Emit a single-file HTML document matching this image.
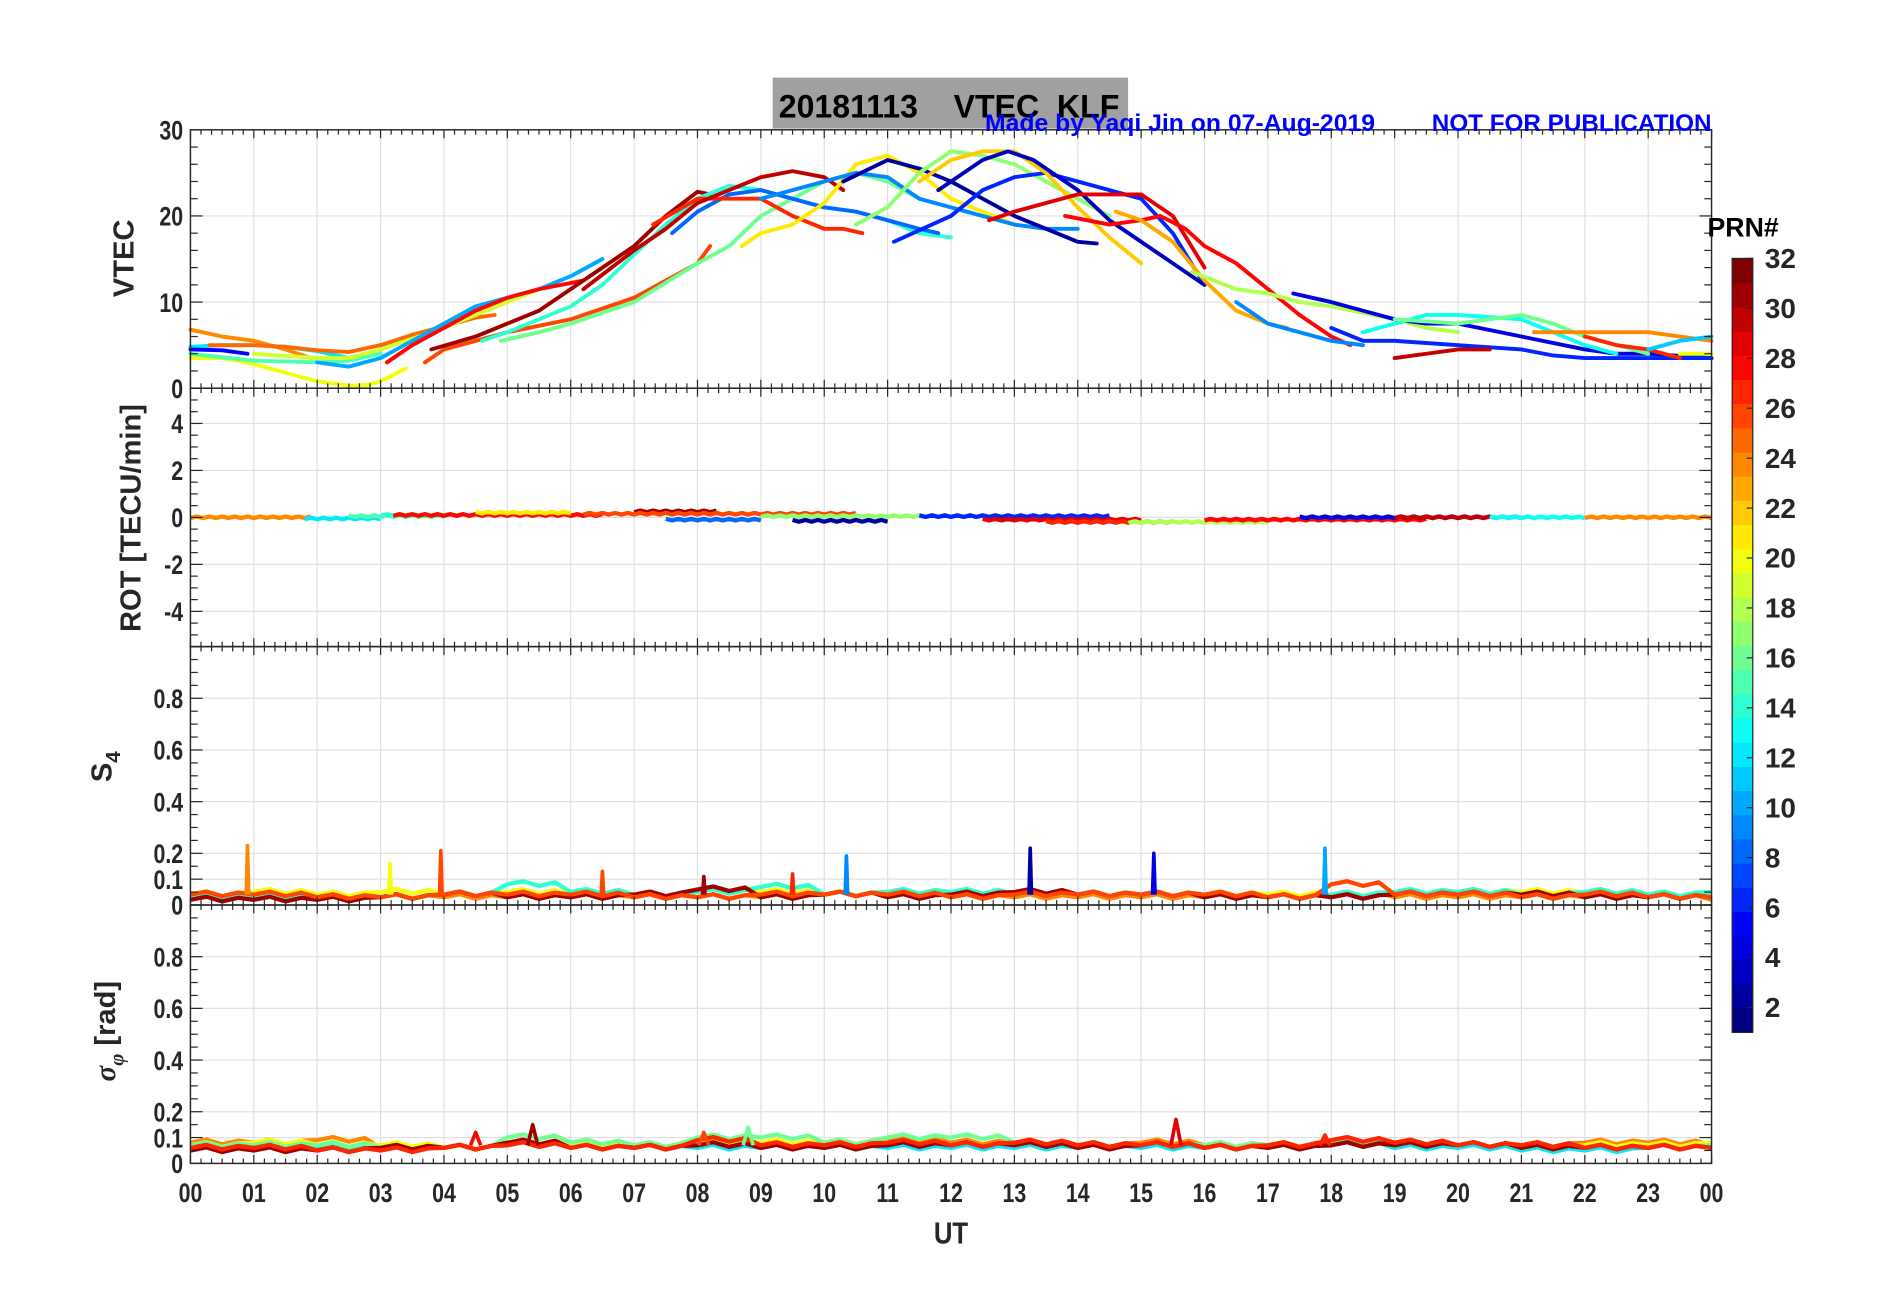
<!DOCTYPE html>
<html><head><meta charset="utf-8"><style>
html,body{margin:0;padding:0;background:#fff;}
svg{display:block;}
text{font-family:"Liberation Sans",sans-serif;font-weight:bold;white-space:pre;}
</style></head><body>
<svg id="chart" width="1902" height="1292" viewBox="0 0 1568 1065" preserveAspectRatio="none" xmlns="http://www.w3.org/2000/svg">
<g id="grid"></g><g id="series"></g><g id="axes"></g><g id="labels"></g>
</svg>
<script>
// ---- data ----
const hourTicks = ["00","01","02","03","04","05","06","07","08","09","10","11","12","13","14","15","16","17","18","19","20","21","22","23","00"];
const vtecTicks = [0,10,20,30];
const rotTicks = [-4,-2,0,2,4];
const s4Ticks = [0,0.1,0.2,0.4,0.6,0.8];
const sigTicks = [0,0.1,0.2,0.4,0.6,0.8];
const cbTicks = [2,4,6,8,10,12,14,16,18,20,22,24,26,28,30,32];
// VTEC arcs: prn, hours, values
const vtecPrn = [24,12,5,25,20,15,19,10,28,26,31,16,14,8,27,30,21,9,2,17,6,22,3,29,28,23,18,9,4,6,13,16,24,27,30,11,20];
const vtecHours = [
 [0,0.5,1,1.5,1.9],
 [0,0.5,1,1.5,2,2.5,3,3.5],
 [0,0.5,0.9],
 [0.3,1,1.5,2,2.5,3,3.5,4,4.5,4.8],
 [0,0.5,1,1.5,2,2.5,2.8,3,3.4],
 [0,1,2,2.5,3],
 [1,2,2.5,3,4,5,5.5],
 [2,2.5,3,4,4.5,5,5.5,6,6.5],
 [3.1,3.5,4,4.5,5,5.5,6.2],
 [3.7,4,5,6,7,8,8.2],
 [3.8,4.5,5,5.5,6,6.5,7,7.5,8,8.2],
 [4.9,5.5,6,7,8,8.5,9,10,10.5,11,11.5],
 [4.6,5,6,6.5,7,7.5,8,8.5,9,9.5,10,10.5,11,11.5,12],
 [7.6,8,8.5,9,9.5,10,10.5,11,11.5,11.8],
 [7.3,8,9,9.5,10,10.3,10.6],
 [6.2,7,7.5,8,8.5,9,9.5,10,10.3],
 [8.7,9,9.5,10,10.5,11,11.5,12,12.5,13,13.5],
 [9,9.5,10,10.5,11,11.5,12,12.5,13,13.5,14],
 [10.3,11,11.5,12,12.5,13,13.5,14,14.3],
 [10.5,11,11.5,12,12.5,13,13.5,14,14.5],
 [11.1,12,12.5,13,13.5,14,14.5,15,15.5,16],
 [11.5,12,12.5,13,13.5,14,14.5,15],
 [11.8,12.5,12.9,13.3,14,14.5,15,15.5,16],
 [12.6,13,13.5,14,14.5,15,15.5,16],
 [13.8,14.5,15,15.3,15.7,16,16.5,17,17.5,18,18.3],
 [14.6,15,15.5,16,16.5,17,17.3],
 [15.8,16.5,17,17.5,18,19,19.5,20],
 [16.5,17,17.5,18,18.5],
 [17.4,18,18.5,19,19.5,20,21,22,22.5,23,24],
 [18,18.5,19,20,21,21.5,22,23,24],
 [18.5,19,19.5,20,21,21.5,22,22.5],
 [19,20,21,21.5,22,23],
 [21.2,22,23,23.5,24],
 [22,22.5,23,23.5],
 [19,19.5,20,20.5],
 [23,23.5,24],
 [23.5,24]
];
const vtecVals = [
 [6.8,6,5.5,4.5,3.5],
 [4.8,5,5,4.8,4.3,3.5,4.5,6],
 [4.5,4.4,4],
 [5,5,4.8,4.4,4.2,5,6.2,7.2,8.2,8.5],
 [3.5,3.5,2.8,1.8,0.8,0.3,0.4,0.8,2.3],
 [4,3.2,3,3.2,4],
 [4,3.5,3.5,4.5,7,10,11.5],
 [3,2.5,3.5,7.5,9.5,10.5,11.5,13,15],
 [3,5,7,9,10.5,11.5,12.5],
 [3,4.5,6.5,8,10.5,14.5,16.5],
 [4.5,6,7.5,9,11.5,14,16.5,20,22.8,22.5],
 [5.5,6.5,7.5,10,14.5,16.5,20,24,25,24,22],
 [5.5,6.5,9.5,12,15.5,19,22,23.5,23,22,21,20.5,19.5,18,17.5],
 [18,20.5,22.5,23,22,21,20.5,19.5,18.5,18],
 [19,22,22,20,18.5,18.5,18],
 [11.5,16,18.5,21.5,23,24.5,25.2,24.5,23],
 [16.5,18,19,21.5,26,27,25,22,20.5,19,18.5],
 [22,23,24,25,24.5,22,21,20,19,18.5,18.5],
 [24,26.5,25.5,24,22,20,18.5,17,16.8],
 [19,21,25,27.5,27,26,24,22,20],
 [17,20,23,24.5,25,24,23,22,18,12],
 [24,26.5,27.5,27.5,25,21,17.5,14.5],
 [23,26.5,27.5,26.5,23,19.5,17,14.5,12],
 [19.5,20.5,21.5,22.5,22.5,22.5,20,14],
 [20,19,19.5,20,18.5,16.5,14.5,11.5,8.5,6,5],
 [20.5,19.5,17,12.5,9,7.5,7],
 [13.5,11.5,11,10,9.5,8,7,6.5],
 [10,7.5,6.5,5.5,5],
 [11,10,9,8,7.5,7.5,6,4.5,4,4,3.5],
 [7,5.5,5.5,5,4.5,3.8,3.5,3.5,3.5],
 [6.5,7.5,8.5,8.5,8,6.5,5,4],
 [8,7.5,8.5,7.5,6,4],
 [6.5,6.5,6.5,6,5.5],
 [6,5,4.5,3.5],
 [3.5,4,4.5,4.5],
 [4.5,5.5,6],
 [4,4]
];
// ROT arcs (near zero)
const rotPrn = [24,12,15,14,28,21,31,8,26,2,17,6,29,27,18,28,4,30,13,24];
const rotStart = [0,1.8,2.5,3,3.2,4.5,7,7.5,6.2,9.5,9,11.5,12.5,13.5,14.8,16,17.5,19,20.5,22];
const rotEnd   = [1.9,3,4,5,6.5,6,8.3,9,10.5,11,13,14.5,15,15.5,17,19.5,21,20.5,22,24];
const rotVals  = [0,-0.05,0.05,0.1,0.1,0.2,0.25,-0.1,0.15,-0.15,0.05,0.05,-0.1,-0.2,-0.2,-0.1,0,0,0,0];
// S4 baselines (hourly 0..24)
const s4Prn = [24,20,14,31,26];
const s4Vals = [
 [0.03,0.04,0.03,0.03,0.03,0.03,0.03,0.03,0.03,0.03,0.04,0.04,0.03,0.03,0.03,0.03,0.03,0.03,0.04,0.03,0.03,0.03,0.03,0.03,0.02],
 [0.04,0.05,0.04,0.05,0.04,0.05,0.04,0.04,0.05,0.05,0.04,0.05,0.05,0.04,0.04,0.04,0.04,0.04,0.04,0.04,0.05,0.05,0.04,0.04,0.05],
 [0.03,0.03,0.03,0.03,0.04,0.08,0.05,0.04,0.05,0.07,0.04,0.05,0.05,0.04,0.04,0.04,0.03,0.03,0.04,0.05,0.05,0.04,0.05,0.04,0.05],
 [0.02,0.02,0.02,0.03,0.04,0.03,0.03,0.04,0.06,0.03,0.04,0.03,0.04,0.05,0.04,0.04,0.03,0.03,0.03,0.04,0.04,0.04,0.03,0.03,0.03],
 [0.04,0.04,0.03,0.03,0.04,0.04,0.04,0.03,0.03,0.04,0.04,0.04,0.03,0.04,0.04,0.04,0.04,0.03,0.08,0.04,0.04,0.03,0.04,0.03,0.03]
];
const s4SpikeH = [0.9,3.15,3.95,6.5,9.5,10.35,13.25,15.2,17.9,8.1];
const s4SpikeV = [0.23,0.16,0.21,0.13,0.12,0.19,0.22,0.2,0.22,0.11];
const s4SpikeP = [24,20,26,26,27,9,2,4,10,31];
// sigma baselines (hourly)
const sigPrn = [12,24,20,16,31,27];
const sigVals = [
 [0.06,0.06,0.06,0.06,0.06,0.07,0.07,0.06,0.06,0.06,0.06,0.06,0.06,0.06,0.06,0.06,0.06,0.06,0.07,0.06,0.06,0.05,0.05,0.06,0.06],
 [0.08,0.08,0.09,0.06,0.06,0.07,0.07,0.06,0.07,0.08,0.08,0.09,0.08,0.07,0.07,0.08,0.07,0.07,0.08,0.07,0.07,0.07,0.08,0.08,0.07],
 [0.07,0.08,0.07,0.07,0.06,0.08,0.07,0.07,0.08,0.08,0.08,0.08,0.07,0.07,0.07,0.07,0.06,0.07,0.07,0.07,0.07,0.06,0.07,0.07,0.08],
 [0.07,0.07,0.07,0.06,0.06,0.10,0.08,0.07,0.10,0.10,0.08,0.10,0.10,0.08,0.07,0.07,0.07,0.07,0.08,0.08,0.07,0.06,0.06,0.06,0.07],
 [0.05,0.05,0.05,0.06,0.06,0.08,0.06,0.06,0.07,0.06,0.06,0.07,0.07,0.07,0.06,0.07,0.06,0.06,0.07,0.07,0.07,0.06,0.06,0.06,0.06],
 [0.06,0.06,0.05,0.05,0.06,0.07,0.06,0.06,0.09,0.07,0.07,0.08,0.07,0.08,0.07,0.07,0.06,0.07,0.09,0.08,0.07,0.07,0.06,0.06,0.06]
];
const sigSpikeH = [5.4,15.55,8.1,17.9,4.5,8.8];
const sigSpikeV = [0.15,0.17,0.12,0.11,0.12,0.14];
const sigSpikeP = [31,29,26,27,28,16];

// ---- layout ----
const X0=157,X1=1411;
const P=[{t:107,b:320,min:0,max:30},{t:320,b:533,min:-5.5,max:5.5},{t:533,b:746,min:0,max:1.0},{t:746,b:959,min:0,max:1.0}];
const xs=h=>X0+h/24*(X1-X0);
const ys=(i,v)=>P[i].b-(v-P[i].min)/(P[i].max-P[i].min)*(P[i].b-P[i].t);
function jet(p){const t=(p-1)/31;const f=x=>Math.max(0,Math.min(1,x));
 const r=f(1.5-Math.abs(4*t-3)),g=f(1.5-Math.abs(4*t-2)),b=f(1.5-Math.abs(4*t-1));
 return `rgb(${Math.round(r*255)},${Math.round(g*255)},${Math.round(b*255)})`;}
const NS="http://www.w3.org/2000/svg";
function mk(tag,attrs,parent){const e=document.createElementNS(NS,tag);for(const k in attrs)e.setAttribute(k,attrs[k]);parent.appendChild(e);return e;}
const G=document.getElementById('grid'),S=document.getElementById('series'),A=document.getElementById('axes'),L=document.getElementById('labels');
function txt(x,y,s,size,anchor,parent,fill,sx){const t=mk('text',{x:0,y:0,'font-size':size,'text-anchor':anchor||'middle',fill:fill||'#262626',transform:`translate(${x},${y}) scale(${sx||0.8},1)`},parent);t.textContent=s;return t;}

for(let i=0;i<4;i++){
 for(let h=1;h<24;h++){const l=mk('line',{x1:xs(h),x2:xs(h),y1:P[i].t,y2:P[i].b,stroke:'#e0e0e0','stroke-width':1},G);
  
  }
 const tk=[vtecTicks,rotTicks,s4Ticks,sigTicks][i];
 tk.forEach(v=>{if(v===P[i].min)return;const l=mk('line',{x1:X0,x2:X1,y1:ys(i,v),y2:ys(i,v),stroke:'#e0e0e0','stroke-width':1},G);
  
  });
}
vtecPrn.forEach((p,k)=>{const pts=vtecHours[k].map((h,j)=>xs(h)+','+ys(0,vtecVals[k][j])).join(' ');
 const e=mk('polyline',{points:pts,fill:'none',stroke:jet(p),'stroke-width':3.2,'stroke-linejoin':'round','stroke-linecap':'round'},S);
 
 });
rotPrn.forEach((p,k)=>{const h0=rotStart[k],h1=rotEnd[k],v=rotVals[k];const pts=[];
 for(let h=h0;h<=h1+1e-6;h+=0.1){const w=((Math.round(h*10)%2)?0.04:-0.03);pts.push(xs(h)+','+ys(1,v+w));}
 const e=mk('polyline',{points:pts.join(' '),fill:'none',stroke:jet(p),'stroke-width':3.5,'stroke-linejoin':'round'},S);
 
 });
function base(panel,prns,vals,name){prns.forEach((p,k)=>{const pts=[];
 vals[k].forEach((v,h)=>{pts.push(xs(h)+','+ys(panel,v));if(h<24){pts.push(xs(h+0.25)+','+ys(panel,v+0.012));pts.push(xs(h+0.5)+','+ys(panel,v-0.006));pts.push(xs(h+0.75)+','+ys(panel,v+0.008));}});
 const e=mk('polyline',{points:pts.join(' '),fill:'none',stroke:jet(p),'stroke-width':3.5,'stroke-linejoin':'round'},S);
 
 });}
function spikes(panel,H,V,Pr,name,w,b){H.forEach((h,k)=>{const e=mk('polyline',{points:`${xs(h-w)},${ys(panel,b)} ${xs(h)},${ys(panel,V[k])} ${xs(h+w)},${ys(panel,b)}`,fill:'none',stroke:jet(Pr[k]),'stroke-width':3,'stroke-linejoin':'round'},S);
 
 });}
base(2,s4Prn,s4Vals,'s4-line');spikes(2,s4SpikeH,s4SpikeV,s4SpikeP,'s4-spike',0.02,0.04);
base(3,sigPrn,sigVals,'sigma-line');spikes(3,sigSpikeH,sigSpikeV,sigSpikeP,'sigma-spike',0.08,0.07);

for(let i=0;i<4;i++){
 const r=mk('rect',{x:X0,y:P[i].t,width:X1-X0,height:P[i].b-P[i].t,fill:'none',stroke:'#262626','stroke-width':1.2},A);
 
 
 for(let m=0;m<=144;m++){const h=m/6,len=(m%6===0)?7:4,x=xs(h);
  mk('line',{x1:x,x2:x,y1:P[i].t,y2:P[i].t+len,stroke:'#262626','stroke-width':1},A);
  mk('line',{x1:x,x2:x,y1:P[i].b,y2:P[i].b-len,stroke:'#262626','stroke-width':1},A);}
 const minor=[2,0.5,0.05,0.05][i],major=[vtecTicks,rotTicks,s4Ticks,sigTicks][i];
 for(let v=P[i].min;v<=P[i].max+1e-6;v+=minor){const y=ys(i,v),isM=major.some(t=>Math.abs(t-v)<1e-6),len=isM?10:6;
  mk('line',{x1:X0,x2:X0+len,y1:y,y2:y,stroke:'#262626','stroke-width':1},A);
  mk('line',{x1:X1,x2:X1-len,y1:y,y2:y,stroke:'#262626','stroke-width':1},A);}
 major.forEach(v=>{const t=txt(X0-6,ys(i,v)+8,String(v),22,'end',L);
  
  });
}
hourTicks.forEach((s,h)=>{const t=txt(xs(h),991,s,22,'middle',L);
 
 });
</script>
<svg style="position:absolute;left:0;top:0" width="1902" height="1292" viewBox="0 0 1568 1065" preserveAspectRatio="none" xmlns="http://www.w3.org/2000/svg">
<rect x="637" y="64" width="293" height="42" fill="#a0a0a0"/>
<text x="0" y="0" font-size="27" fill="#000" transform="translate(642,97) scale(0.98,1)" style="font-family:'Liberation Sans',sans-serif;font-weight:bold;white-space:pre">20181113    VTEC  KLF</text>
<text x="0" y="0" font-size="20" fill="#0000ff" transform="translate(812,108) scale(1.02,1)" style="font-family:'Liberation Sans',sans-serif;font-weight:bold">Made by Yaqi Jin on 07-Aug-2019</text>
<text x="0" y="0" font-size="20" fill="#0000ff" text-anchor="end" transform="translate(1411,108) scale(1.0,1)" style="font-family:'Liberation Sans',sans-serif;font-weight:bold">NOT FOR PUBLICATION</text>
<text x="0" y="0" font-size="24" fill="#262626" text-anchor="middle" transform="translate(110,213) rotate(-90)" style="font-family:'Liberation Sans',sans-serif;font-weight:bold">VTEC</text>
<text x="0" y="0" font-size="24" fill="#262626" text-anchor="middle" transform="translate(116,427) rotate(-90)" style="font-family:'Liberation Sans',sans-serif;font-weight:bold">ROT [TECU/min]</text>
<text x="0" y="0" font-size="24" fill="#262626" text-anchor="middle" transform="translate(92,632) rotate(-90)" style="font-family:'Liberation Sans',sans-serif;font-weight:bold">S<tspan font-size="17" dy="7">4</tspan></text>
<text x="0" y="0" font-size="24" fill="#262626" text-anchor="middle" transform="translate(95,850) rotate(-90)" style="font-family:'Liberation Serif',serif;font-style:italic">σ<tspan font-size="17" dy="7">φ</tspan><tspan dy="-7" style="font-family:'Liberation Sans',sans-serif;font-style:normal;font-weight:bold"> [rad]</tspan></text>
<text x="0" y="0" font-size="25" fill="#262626" text-anchor="middle" transform="translate(784,1025) scale(0.85,1)" style="font-family:'Liberation Sans',sans-serif;font-weight:bold">UT</text>
<text x="0" y="0" font-size="22" fill="#000" text-anchor="middle" transform="translate(1437,195)" style="font-family:'Liberation Sans',sans-serif;font-weight:bold">PRN#</text>
<g id="cb"></g>
</svg>
<script>
(function(){
const NS="http://www.w3.org/2000/svg";const cb=document.getElementById('cb');
const top=213,bot=851,lo=1,hi=32;
const yc=v=>bot-(v-lo)/(hi-lo)*(bot-top);
function jet(p){const t=(p-1)/31;const f=x=>Math.max(0,Math.min(1,x));
 const r=f(1.5-Math.abs(4*t-3)),g=f(1.5-Math.abs(4*t-2)),b=f(1.5-Math.abs(4*t-1));
 return `rgb(${Math.round(r*255)},${Math.round(g*255)},${Math.round(b*255)})`;}
const h=(bot-top)/32;
for(let k=0;k<32;k++){const r=document.createElementNS(NS,'rect');
 r.setAttribute('x',1428);r.setAttribute('y',bot-(k+1)*h);r.setAttribute('width',17);r.setAttribute('height',h+0.5);r.setAttribute('fill',jet(1+k));
 
 
 cb.appendChild(r);}
const fr=document.createElementNS(NS,'rect');fr.setAttribute('x',1428);fr.setAttribute('y',top);fr.setAttribute('width',17);fr.setAttribute('height',bot-top);fr.setAttribute('fill','none');fr.setAttribute('stroke','#262626');cb.appendChild(fr);
cbTicks.forEach(v=>{const y=yc(v);
 const l=document.createElementNS(NS,'line');l.setAttribute('x1',1440);l.setAttribute('x2',1445);l.setAttribute('y1',y);l.setAttribute('y2',y);l.setAttribute('stroke','#262626');cb.appendChild(l);
 const t=document.createElementNS(NS,'text');t.setAttribute('x',1455);t.setAttribute('y',y+8);t.setAttribute('font-size',23);t.setAttribute('fill','#262626');
 t.setAttribute('style',"font-family:'Liberation Sans',sans-serif;font-weight:bold");t.textContent=v;
 
 
 cb.appendChild(t);});
})();
</script>
<style>body{position:relative;width:1902px;height:1292px;overflow:hidden;}</style>
</body></html>
